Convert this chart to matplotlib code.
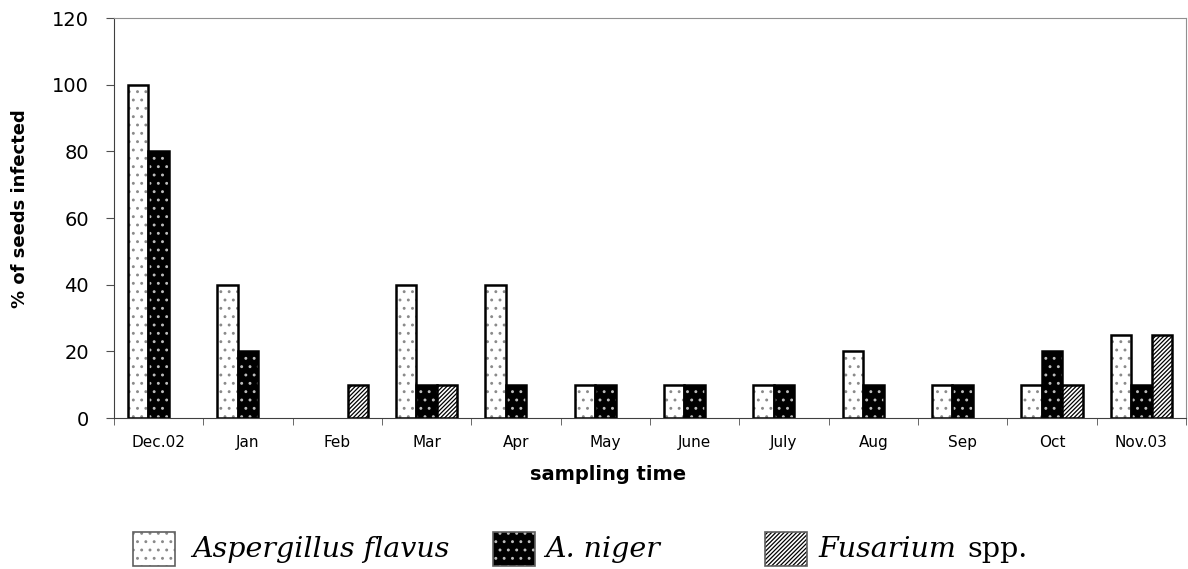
import numpy as np
import matplotlib.pyplot as plt
from matplotlib.patches import Rectangle

plt.rcParams['font.family'] = ['DejaVu Sans']
plt.rcParams['hatch.linewidth'] = 0.9

# data
months = ['Dec.02', 'Jan', 'Feb', 'Mar', 'Apr', 'May', 'June', 'July',
          'Aug', 'Sep', 'Oct', 'Nov.03']
flavus = [100, 40, 0, 40, 40, 10, 10, 10, 20, 10, 10, 25]
niger = [80, 20, 0, 10, 10, 10, 10, 10, 10, 10, 20, 10]
fusarium = [0, 0, 10, 10, 0, 0, 0, 0, 0, 0, 10, 25]

series = [flavus, niger, fusarium]
faces = ['white', 'black', 'white']
hatch_cols = ['#8a8a8a', '#bdbdbd', 'black']
hatches = ['..', '..', '////////']

fig = plt.figure(figsize=(11.88, 5.69), dpi=100)
ax = fig.add_axes([114/1188, 1-418/569, 1072/1188, 400/569])

x = np.arange(len(months))
w = 0.23
for i, vals in enumerate(series):
    pos = x + (i - 1) * w
    lws = [1.8 if v > 0 else 0 for v in vals]
    # hatch fill first, then the black outline on top
    ax.bar(pos, vals, w, color=faces[i], edgecolor=hatch_cols[i],
           hatch=hatches[i], linewidth=0)
    ax.bar(pos, vals, w, fill=False, edgecolor='black', linewidth=lws)

ax.set_xlim(-0.5, len(months) - 0.5)
ax.set_ylim(0, 120)
ax.set_yticks(range(0, 121, 20))
ax.set_xticks(x)
ax.set_xticklabels(months, fontsize=11)
ax.set_xticks(np.arange(-0.5, len(months), 1), minor=True)
ax.tick_params(axis='x', which='major', length=0, pad=12)
ax.tick_params(axis='x', which='minor', length=5, direction='out', color='#505050')
ax.tick_params(axis='y', labelsize=14, length=6, pad=12, direction='out', color='#505050')

for s in ['top', 'right']:
    ax.spines[s].set_color('#909090')
for s in ['left', 'bottom']:
    ax.spines[s].set_color('#404040')

ax.set_xlabel('sampling time', fontsize=14, fontweight='bold')
ax.set_ylabel('% of seeds infected', fontsize=13, fontweight='bold')
ax.xaxis.set_label_coords(0.461, -0.118)
ax.yaxis.set_label_coords(-0.079, 0.5225)

# legend drawn by hand below the axes
W, H = 1188, 569
legend_items = [
    (133, 192, 'Aspergillus flavus', ''),
    (493, 545, 'A. niger', ''),
    (765, 818, 'Fusarium', 'spp.'),
]
for i, (px, tx, it_txt, rest) in enumerate(legend_items):
    fig.add_artist(Rectangle((px/W, 1-566/H), 42/W, 34/H, transform=fig.transFigure,
                             facecolor=faces[i], edgecolor=hatch_cols[i],
                             hatch=hatches[i], linewidth=0))
    fig.add_artist(Rectangle((px/W, 1-566/H), 42/W, 34/H, transform=fig.transFigure,
                             fill=False, edgecolor='#606060', linewidth=1.2))
    t = fig.text(tx/W, 1-557/H, it_txt, fontsize=20.5, family='DejaVu Serif',
                 style='italic', va='baseline')
    if rest:
        fig.canvas.draw()
        bb = t.get_window_extent()
        fig.text(bb.x1/W + 12/W, 1-557/H, rest, fontsize=20.5,
                 family='DejaVu Serif', va='baseline')

fig.savefig('out.png', dpi=100)
